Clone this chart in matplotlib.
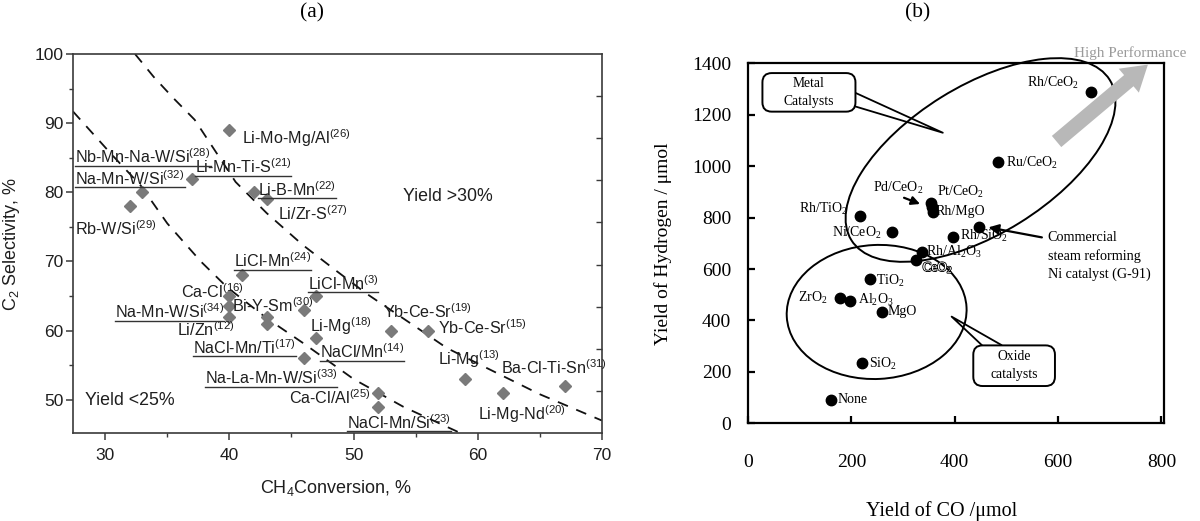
import numpy as np
import matplotlib
matplotlib.use("Agg")
import matplotlib.pyplot as plt
from matplotlib.patches import Ellipse, FancyBboxPatch
from matplotlib.transforms import ScaledTranslation
from matplotlib.lines import Line2D
import matplotlib.patheffects as pe

plt.rcParams['mathtext.fontset'] = 'custom'
plt.rcParams['mathtext.rm'] = 'Liberation Sans'
plt.rcParams['mathtext.default'] = 'regular'

# ---------------- Panel (a) data ----------------
ch4_conversion = [40, 37, 33, 32, 42, 43, 41, 40, 40, 40, 43, 43, 46, 47, 47, 46, 53, 56, 59, 62, 67, 52, 52]
c2_selectivity = [89, 82, 80, 78, 80, 79, 68, 65, 63.5, 62, 62, 61, 63, 65, 59, 56, 60, 60, 53, 51, 52, 51, 49]

cat_names = ["Li-Mo-Mg/Al", "Nb-Mn-Na-W/Si", "Li-Mn-Ti-S", "Na-Mn-W/Si", "Rb-W/Si", "Li-B-Mn",
             "Li/Zr-S", "LiCl-Mn", "Ca-Cl", "Na-Mn-W/Si", "Li/Zn", "Bi-Y-Sm", "NaCl-Mn/Ti",
             "Na-La-Mn-W/Si", "Ca-Cl/Al", "LiCl-Mn", "Li-Mg", "NaCl/Mn", "Yb-Ce-Sr", "Yb-Ce-Sr",
             "Li-Mg", "Ba-Cl-Ti-Sn", "Li-Mg-Nd", "NaCl-Mn/Si"]
cat_refs = ["26", "28", "21", "32", "29", "22", "27", "24", "16", "34", "12", "30", "17",
            "33", "25", "3", "18", "14", "19", "15", "13", "31", "20", "23"]
cat_underlined = [False, True, True, True, False, True, False, True, False, True, False, False, True,
                  True, False, True, False, True, False, False, False, False, False, True]
lab_x = [41.0, 27.6, 37.2, 27.6, 27.6, 42.3, 43.9, 40.4, 36.1, 30.8, 35.8, 40.2, 37.1,
         38.0, 44.8, 46.3, 46.45, 47.3, 52.4, 56.8, 56.8, 61.85, 60.0, 49.5]
lab_y = [87.9, 85.1, 83.7, 82.0, 74.7, 80.4, 76.9, 70.1, 65.6, 62.7, 60.1, 63.6, 57.6,
         53.2, 50.3, 66.8, 60.7, 56.9, 62.7, 60.5, 55.9, 54.6, 47.9, 46.7]

# iso-yield guide curves (conversion, selectivity)
low_curve_x = [27.4, 28.5, 30.5, 32.85, 35.0, 37.7, 39.8, 43.0, 46.1, 50.0, 54.0, 58.6]
low_curve_y = [91.7, 89.5, 85.5, 81.0, 75.5, 70.0, 66.3, 61.8, 58.0, 53.0, 49.0, 45.2]
high_curve_x = [32.4, 33.9, 35.5, 37.2, 40.5, 43.0, 45.9, 48.5, 51.0, 54.8, 57.5, 60.5, 65.0, 70.0]
high_curve_y = [100.0, 96.7, 93.6, 90.5, 81.5, 77.0, 72.4, 68.8, 65.4, 60.8, 57.5, 54.8, 50.8, 47.0]

# ---------------- Panel (b) data ----------------
cat_b = ["Rh/CeO2", "Ru/CeO2", "Pd/CeO2", "Pt/CeO2", "Rh/MgO", "Ni (G-91)", "Rh/SiO2", "Rh/Al2O3",
         "CeO2", "Rh/TiO2", "Ni/CeO2", "TiO2", "ZrO2", "Al2O3", "MgO", "SiO2", "None"]
co_yield = [664, 484, 355, 357, 358, 447, 397, 336, 326, 216, 278, 237, 178, 198, 259, 220, 160]
h2_yield = [1290, 1017, 856, 840, 823, 765, 723, 667, 635, 806, 745, 560, 486, 477, 432, 233, 91]

lab_b_text = [r"Rh/CeO$_2$", r"Ru/CeO$_2$", r"Pd/CeO$_2$", r"Pt/CeO$_2$", "Rh/MgO", r"Rh/SiO$_2$",
              r"Rh/Al$_2$O$_3$", r"Rh/TiO$_2$", r"Ni/CeO$_2$", r"TiO$_2$", r"ZrO$_2$",
              r"Al$_2$O$_3$", "MgO", r"SiO$_2$", "None"]
lab_b_x = [641, 500, 242, 365, 363, 410, 345, 194, 258, 248, 153, 213, 271, 234, 173]
lab_b_y = [1322, 1011, 914, 901, 823, 727, 666, 832, 739, 555, 486, 480, 434, 231, 93]
lab_b_ha = ["right", "left", "left", "left", "left", "left", "left", "right", "right", "left",
            "right", "left", "left", "left", "left"]

xticks_b = [0, 200, 400, 600, 800]
yticks_b = [0, 200, 400, 600, 800, 1000, 1200, 1400]

fig = plt.figure(figsize=(12, 5.21), dpi=100)

# ================= Panel (a) =================
SANS = "Liberation Sans"
tcol = "#1e1e1e"
scol = "#3a3a3a"
ax = fig.add_axes([0.0608, 0.1689, 0.4408, 0.7274])
ax.set_xlim(27.4, 70)
ax.set_ylim(45.2, 100)
for s in ax.spines.values():
    s.set_color(scol)
    s.set_linewidth(1.2)
ax.plot(low_curve_x, low_curve_y, ls=(0, (6, 5)), color="#111111", lw=1.3)
ax.plot(high_curve_x, high_curve_y, ls=(0, (6, 5)), color="#111111", lw=1.3)
ax.plot(ch4_conversion, c2_selectivity, ls="none", marker="D", ms=6.3, color="#7a7a7a", zorder=3)

ax.set_xticks([30, 40, 50, 60, 70])
ax.set_yticks([50, 60, 70, 80, 90, 100])
ax.set_xticks([35, 45, 55, 65], minor=True)
ax.set_yticks([55, 65, 75, 85, 95], minor=True)
ax.tick_params(which="major", direction="out", length=5, width=1.1, color=scol,
               labelsize=12.5, labelcolor=tcol, pad=3)
ax.tick_params(which="minor", direction="out", length=3, width=1.0, color=scol)
ax.tick_params(axis="y", pad=2)
ax.tick_params(axis="x", pad=6)
for lab in ax.get_xticklabels() + ax.get_yticklabels():
    lab.set_fontfamily(SANS)

axr = ax.twinx()
axr.set_ylim(0, 9)
axr.set_yticks(np.arange(1, 9))
axr.tick_params(direction="in", length=4, width=1.0, color=scol, labelright=False)
for s in axr.spines.values():
    s.set_visible(False)

ax.set_ylabel(r"C$_2$ Selectivity, %", fontsize=13, family=SANS, color=tcol)
ax.yaxis.set_label_coords(-0.096, 0.5)
ax.set_xlabel(r"CH$_4$Conversion, %", fontsize=13, family=SANS, color=tcol)
ax.xaxis.set_label_coords(0.497, -0.118)

texts_ul = []
for name, ref, x, y, ul in zip(cat_names, cat_refs, lab_x, lab_y, cat_underlined):
    t = ax.text(x, y, name + r"$^{(" + ref + ")}$", fontsize=11.6, family=SANS, color=tcol,
                ha="left", va="center", zorder=4)
    if ul:
        texts_ul.append(t)

ax.text(54.0, 79.4, "Yield >30%", fontsize=12.8, family=SANS, color=tcol, va="center")
ax.text(28.4, 49.9, "Yield <25%", fontsize=12.8, family=SANS, color=tcol, va="center")

fig.text(0.26, 0.976, "(a)", fontsize=15.5, family="Liberation Serif", ha="center", va="center")

# ================= Panel (b) =================
SERIF = "Liberation Serif"
bx = fig.add_axes([0.6233, 0.1875, 0.3467, 0.691])
bx.set_xlim(0, 805)
bx.set_ylim(0, 1400)
for s in bx.spines.values():
    s.set_color("black")
    s.set_linewidth(1.6)
bx.plot(co_yield, h2_yield, ls="none", marker="o", ms=7.5, color="black", zorder=3)
bx.set_xticks(xticks_b)
bx.set_yticks(yticks_b)
bx.tick_params(direction="in", length=5, width=1.6, labelsize=14)
bx.tick_params(axis="x", pad=22)
bx.tick_params(axis="y", pad=12)
for lab in bx.get_xticklabels() + bx.get_yticklabels():
    lab.set_fontfamily(SERIF)
bx.set_ylabel("Yield of Hydrogen / μmol", fontsize=14, family=SERIF)
bx.yaxis.set_label_coords(-0.183, 0.5)
bx.set_xlabel("Yield of CO /μmol", fontsize=14.5, family=SERIF)
bx.xaxis.set_label_coords(0.465, -0.215)

for txt, x, y, ha in zip(lab_b_text, lab_b_x, lab_b_y, lab_b_ha):
    t = bx.text(x, y, txt, fontsize=10, family=SERIF, ha=ha, va="center", zorder=4)
    t.set_math_fontfamily("stix")

tc = bx.text(338, 604, r"CeO$_2$", fontsize=9.5, family=SERIF, ha="left", va="center",
             color="white", zorder=4)
tc.set_math_fontfamily("stix")
tc.set_path_effects([pe.withStroke(linewidth=1.2, foreground="black")])

# ellipses defined in screen pixels around a data centre
def screen_ellipse(ax_, cx, cy, a_px, b_px, ang):
    tr = fig.dpi_scale_trans + ScaledTranslation(cx, cy, ax_.transData)
    e = Ellipse((0, 0), 2 * a_px / fig.dpi, 2 * b_px / fig.dpi, angle=ang,
                fill=False, lw=1.4, color="black", transform=tr, clip_on=False)
    ax_.add_patch(e)

screen_ellipse(bx, 450, 1024, 152, 74, 31.8)
screen_ellipse(bx, 249, 433, 90, 67, 3)

# callout boxes
box1 = FancyBboxPatch((28, 1212), 180, 150, boxstyle="round,pad=0,rounding_size=18",
                      fill=True, fc="white", ec="black", lw=1.4, mutation_aspect=2.0, zorder=5)
bx.add_patch(box1)
bx.text(118, 1287, "Metal\nCatalysts", fontsize=9.8, family=SERIF, ha="center", va="center",
        linespacing=1.5, zorder=6)
bx.plot([208, 377, 208], [1285, 1130, 1232], color="black", lw=1.3, zorder=4)

box2 = FancyBboxPatch((436, 145), 158, 158, boxstyle="round,pad=0,rounding_size=18",
                      fill=True, fc="white", ec="black", lw=1.4, mutation_aspect=2.0, zorder=5)
bx.add_patch(box2)
bx.text(515, 224, "Oxide\ncatalysts", fontsize=9.8, family=SERIF, ha="center", va="center",
        linespacing=1.5, zorder=6)
bx.plot([452, 394, 490], [305, 415, 305], color="black", lw=1.3, zorder=4)

bx.text(580, 650, "Commercial\nsteam reforming\nNi catalyst (G-91)", fontsize=10.2,
        family=SERIF, ha="left", va="center", linespacing=1.45)
bx.annotate("", xy=(460, 764), xytext=(574, 721),
            arrowprops=dict(arrowstyle="-|>,head_length=0.6,head_width=0.3", lw=1.6, color="black"))
bx.annotate("", xy=(338, 849), xytext=(297, 881),
            arrowprops=dict(arrowstyle="-|>,head_length=0.5,head_width=0.25", lw=1.6, color="black"))

bx.annotate("", xy=(778, 1402), xytext=(593, 1089), annotation_clip=False,
            arrowprops=dict(arrowstyle="simple,head_length=1.2,head_width=1.5,tail_width=0.7",
                            mutation_scale=15, color="#b8b8b8", lw=0))
bx.text(740, 1440, "High Performance", fontsize=11, family=SERIF, color="#9a9a9a",
        ha="center", va="center", clip_on=False)

fig.text(0.765, 0.976, "(b)", fontsize=15.5, family=SERIF, ha="center", va="center")

# underlines for panel (a) labels
fig.canvas.draw()
r = fig.canvas.get_renderer()
inv = fig.transFigure.inverted()
for t in texts_ul:
    bb = t.get_window_extent(r)
    (x0, y0), (x1, _) = inv.transform([(bb.x0, bb.y0 + 0.5), (bb.x1, bb.y0)])
    fig.add_artist(Line2D([x0, x1], [y0, y0], color="#333333", lw=1.0))

fig.savefig("out.png", dpi=100)
